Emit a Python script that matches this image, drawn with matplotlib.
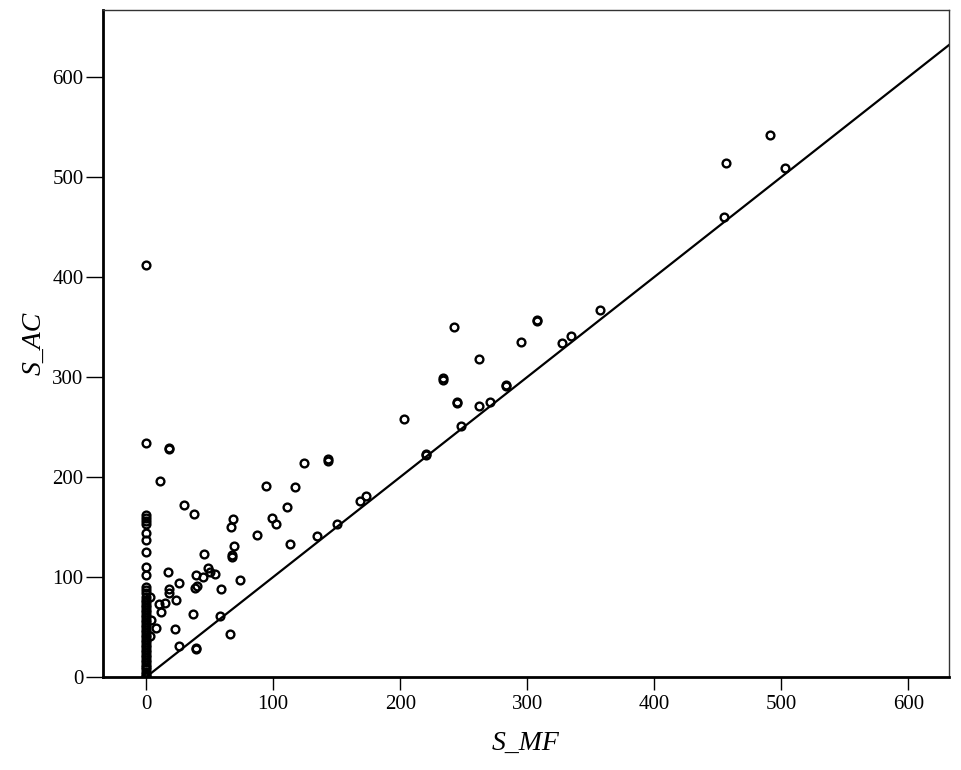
import matplotlib.pyplot as plt
import numpy as np

# Points lying on S_MF = 0 (the dense vertical column)
zero_col_ac = [412, 234, 162, 159, 156, 153, 144, 137, 125, 110, 102, 90, 87, 84,
               80, 77, 75, 72, 70, 67, 65, 62, 60, 57, 55, 52, 50, 47, 45, 42, 40,
               37, 35, 32, 30, 27, 25, 22, 20, 17, 15, 12, 10, 8, 5, 3, 1, 0]

# Remaining points (S_MF, S_AC)
s_mf = [2.6, 3.7, 2.6, 7.6, 10, 11, 11.8, 14.7, 16.8, 17.6, 17.6, 17.6, 17.6,
        23, 23.4, 26, 26, 30, 37.5, 36.8, 38.6, 39, 39, 40, 39.4, 45, 45.7,
        48.6, 50.4, 53.8, 58.3, 59, 66, 67.5, 67.7, 67, 68, 69, 74, 87, 94,
        99, 102, 111, 113, 117, 124, 134.6, 142.8, 142.8, 150.4, 168.5, 172.7,
        203, 220.5, 220.5, 234, 234, 242, 244.6, 244.6, 248, 262, 261.7, 271,
        283, 283, 295, 307.5, 307.5, 327, 334.4, 357.5, 454.6, 456.7, 490.8, 503]
s_ac = [80, 57, 41, 49, 73, 196, 65, 74, 105, 229, 228, 88, 84,
        48, 77, 94, 31, 172, 163, 63, 89, 28, 29, 91, 102, 100, 123,
        109, 105, 103, 61, 88, 43, 122, 120, 150, 158, 131, 97, 142, 191,
        159, 153, 170, 133, 190, 214, 141, 218, 216, 153, 176, 181,
        258, 223, 222, 299, 297, 350, 274, 275, 251, 318, 271, 275,
        292, 291, 335, 357, 356, 334, 341, 367, 460, 514, 542, 509]

plt.rcParams['font.family'] = ['Liberation Serif', 'DejaVu Serif']

fig = plt.figure(figsize=(9.61, 7.70), dpi=100)
ax = fig.add_axes([0.1072, 0.1208, 0.8803, 0.8662])

x_all = np.concatenate([np.zeros(len(zero_col_ac)), s_mf])
y_all = np.concatenate([zero_col_ac, s_ac])

ax.plot(x_all, y_all, linestyle='none', marker='o', markersize=5.6,
        markerfacecolor='none', markeredgecolor='black', markeredgewidth=1.7)

# Reference line y = x
ax.plot([0, 700], [0, 700], color='black', linewidth=1.6)

ax.set_xlim(-34, 632)
ax.set_ylim(0, 667)
ax.set_xticks([0, 100, 200, 300, 400, 500, 600])
ax.set_yticks([0, 100, 200, 300, 400, 500, 600])
ax.tick_params(direction='out', length=9, width=1.0, labelsize=15, pad=4,
               colors='black')
ax.tick_params(axis='y', length=12, pad=2)

for side in ['left', 'bottom']:
    ax.spines[side].set_linewidth(2.0)
for side in ['top', 'right']:
    ax.spines[side].set_linewidth(1.0)
    ax.spines[side].set_color('#333333')

ax.set_xlabel('S_MF', fontsize=20, style='italic', labelpad=12)
ax.set_ylabel('S_AC', fontsize=20, style='italic', labelpad=4)

fig.savefig('out.png', dpi=100, facecolor='white')
